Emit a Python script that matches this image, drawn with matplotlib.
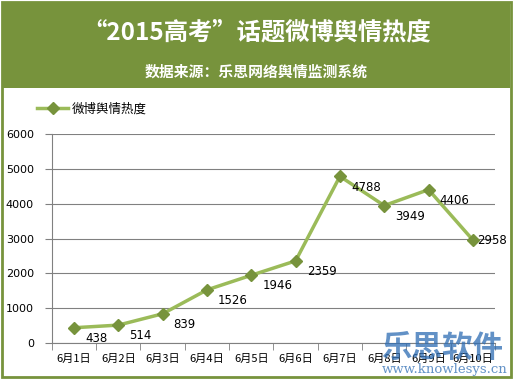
import matplotlib.pyplot as plt
from matplotlib.patches import Rectangle

plt.rcParams['font.family'] = ['DejaVu Sans', 'Noto Sans CJK SC']

dates = ['6月1日', '6月2日', '6月3日', '6月4日', '6月5日',
         '6月6日', '6月7日', '6月8日', '6月9日', '6月10日']
heat = [438, 514, 839, 1526, 1946, 2359, 4788, 3949, 4406, 2958]
series_name = '微博舆情热度'
title = '“2015高考”话题微博舆情热度'
subtitle = '数据来源：乐思网络舆情监测系统'

green = '#77933C'
light = '#9BBB59'
cjk = ['Noto Sans CJK SC', 'DejaVu Sans']

fig = plt.figure(figsize=(5.13, 3.79), dpi=100)

# frame and banner
fig.patches.append(Rectangle((0.003, 0.005), 0.994, 0.99, transform=fig.transFigure,
                             fill=False, edgecolor=green, linewidth=2))
fig.patches.append(Rectangle((0.006, 0.768), 0.988, 0.224, transform=fig.transFigure,
                             facecolor=green, edgecolor='none'))
fig.text(0.5, 0.913, title, ha='center', va='center', color='white',
         fontsize=17.5, fontweight='bold', family=cjk)
fig.text(0.5, 0.812, subtitle, ha='center', va='center', color='white',
         fontsize=10.7, fontweight='bold', family=cjk)

ax = fig.add_axes([0.101, 0.095, 0.864, 0.551])
x = range(len(dates))
ax.plot(x, heat, color=light, linewidth=2.5, marker='D', markersize=6,
        markerfacecolor=green, markeredgecolor=green, label=series_name)

for i, v in enumerate(heat):
    if i < len(heat) - 1:
        ax.annotate(str(v), (i, v), xytext=(8, -3), textcoords='offset points',
                    ha='left', va='top', fontsize=8.5)
    else:
        ax.annotate(str(v), (i, v), xytext=(3, 0), textcoords='offset points',
                    ha='left', va='center', fontsize=8.5)

ax.set_xlim(-0.5, len(dates) - 0.5)
ax.set_ylim(0, 6000)
ax.set_yticks(range(0, 6001, 1000))
ax.set_xticks(list(x))
ax.set_xticklabels(dates, family=cjk, fontsize=8)
ax.set_xticks([i - 0.5 for i in range(len(dates) + 1)], minor=True)
ax.tick_params(axis='x', which='major', length=0, pad=8)
ax.tick_params(axis='x', which='minor', length=5, color='#808080', direction='out')
ax.tick_params(axis='y', length=5, color='#808080', labelsize=8, pad=8)
ax.grid(axis='y', color='#808080', linewidth=0.8)
ax.set_axisbelow(True)
for s in ['top', 'right']:
    ax.spines[s].set_visible(False)
for s in ['left', 'bottom']:
    ax.spines[s].set_color('#808080')

fig.legend(loc='upper left', bbox_to_anchor=(0.05, 0.76), frameon=False,
           prop={'family': cjk, 'size': 9},
           handlelength=2.5, handletextpad=0.3)

# watermark
fig.text(0.862, 0.082, '乐思软件', ha='center', va='center', color='#2E6DB4',
         alpha=0.75, fontsize=22, fontweight='bold', family=cjk)
fig.text(0.867, 0.024, 'www.knowlesys.cn', ha='center', va='center',
         color='#2E6DB4', alpha=0.75, fontsize=9.5, family='DejaVu Serif')

fig.savefig('out.png', dpi=100)
